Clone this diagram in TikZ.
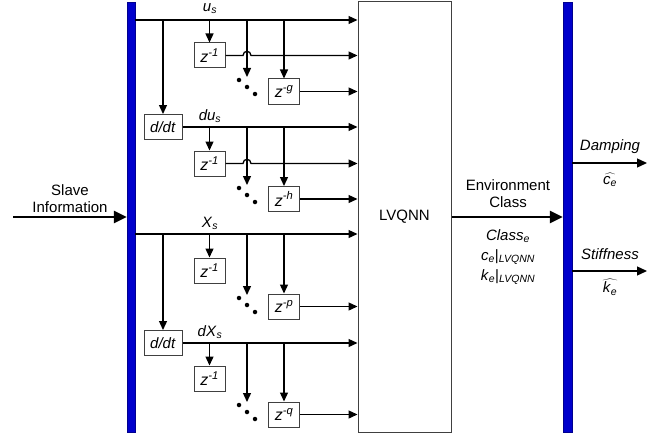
\documentclass[tikz,border=0pt]{standalone}
\usepackage{fontspec}
\setmainfont{Liberation Sans}
\usetikzlibrary{arrows.meta,calc}
\definecolor{barblue}{RGB}{0,0,204}
\definecolor{boxgray}{RGB}{64,64,64}
\newcommand\zpow[1]{{\fontsize{16}{17}\selectfont\textit{z}\textsuperscript{\textit{-#1}}}}
\begin{document}
\begin{tikzpicture}[x=1pt,y=-1pt,
  every node/.style={font=\fontsize{15}{17}\selectfont},
  arr/.style={line width=1.3pt,-{Triangle[length=9pt,width=8pt]}},
  outarr/.style={line width=1.3pt,-{Triangle[length=10pt,width=9pt]}},
  bigarr/.style={line width=2.6pt,-{Triangle[length=13pt,width=12pt]}},
  bar/.style={fill=barblue,draw=barblue!70!black,line width=0.5pt,minimum width=8pt,minimum height=430pt,inner sep=0},
  zbox/.style={draw=boxgray,line width=1pt,minimum width=31pt,minimum height=25pt,inner sep=0,fill=white},
  dbox/.style={zbox,minimum width=38pt},
  dot/.style={circle,fill=black,inner sep=0,minimum size=4.5pt},
  lbl/.style={inner sep=1pt}
]
\useasboundingbox (0,0) rectangle (664,436);
% bars and main block
\node[bar] (lb) at (131,217) {};
\node[bar,minimum width=9pt] (rb) at (567.5,217) {};
\node[draw=boxgray,line width=1pt,minimum width=93pt,minimum height=430pt,inner sep=0] (lvq) at (404.5,217) {LVQNN};

% ---------- group 1 : u_s ----------
\coordinate (r1) at (0,20);
\node[dbox] (d1) at (163,127) {\textit{d/dt}};
\node[zbox] (z11) at (209.5,55.5) {\zpow{1}};
\node[zbox] (z1g) at (284,91.5) {\zpow{g}};
\coordinate (t1) at (247,77);
\draw[arr] (lb.east |- r1) -- (lvq.west |- r1);
\node[lbl] (us) at (210,9) {\textit{u}\textsubscript{\textit{s}}};
\draw[arr] (d1.north |- r1) -- (d1.north);
\draw[arr] (z11.north |- r1) -- (z11.north);
\draw[arr] (t1 |- r1) -- (t1);
\draw[arr] (z1g.north |- r1) -- (z1g.north);
\node[dot] (p11) at ($(t1)+(-8,3)$) {};
\node[dot] (p12) at ($(t1)+(0,10)$) {};
\node[dot] (p13) at ($(t1)+(8,17)$) {};
\coordinate (h11) at ($(t1 |- z11.east)+(-4,0)$);
\coordinate (h12) at ($(t1 |- z11.east)+(4,0)$);
\draw[arr] (z11.east) -- (h11) .. controls +(0,-5.5) and +(0,-5.5) .. (h12) -- (lvq.west |- z11.east);
\draw[arr] (z1g.east) -- (lvq.west |- z1g.east);

% ---------- group 2 : du_s ----------
\node[zbox] (z21) at (209.5,163.5) {\zpow{1}};
\node[zbox] (z2h) at (284,199) {\zpow{h}};
\coordinate (t2) at (247,185);
\draw[arr] (d1.east) -- (lvq.west |- d1.east);
\node[lbl] (dus) at (210,116) {\textit{du}\textsubscript{\textit{s}}};
\draw[arr] (z21.north |- d1.east) -- (z21.north);
\draw[arr] (t2 |- d1.east) -- (t2);
\draw[arr] (z2h.north |- d1.east) -- (z2h.north);
\node[dot] (p21) at ($(t2)+(-8,3)$) {};
\node[dot] (p22) at ($(t2)+(0,10)$) {};
\node[dot] (p23) at ($(t2)+(8,17)$) {};
\coordinate (h21) at ($(t2 |- z21.east)+(-4,0)$);
\coordinate (h22) at ($(t2 |- z21.east)+(4,0)$);
\draw[arr] (z21.east) -- (h21) .. controls +(0,-5.5) and +(0,-5.5) .. (h22) -- (lvq.west |- z21.east);
\draw[arr] (z2h.east) -- (lvq.west |- z2h.east);

% ---------- group 3 : X_s ----------
\coordinate (r3) at (0,234);
\node[dbox] (d2) at (163,343) {\textit{d/dt}};
\node[zbox] (z31) at (209.5,270.5) {\zpow{1}};
\node[zbox] (z3p) at (284,306.5) {\zpow{p}};
\coordinate (t3) at (247,295);
\draw[arr] (lb.east |- r3) -- (lvq.west |- r3);
\node[lbl] (xs) at (210,223) {\textit{X}\textsubscript{\textit{s}}};
\draw[arr] (d2.north |- r3) -- (d2.north);
\draw[arr] (z31.north |- r3) -- (z31.north);
\draw[arr] (t3 |- r3) -- (t3);
\draw[arr] (z3p.north |- r3) -- (z3p.north);
\node[dot] (p31) at ($(t3)+(-8,3)$) {};
\node[dot] (p32) at ($(t3)+(0,10)$) {};
\node[dot] (p33) at ($(t3)+(8,17)$) {};
\draw[arr] (z3p.east) -- (lvq.west |- z3p.east);

% ---------- group 4 : dX_s ----------
\node[zbox] (z41) at (209.5,378.5) {\zpow{1}};
\node[zbox] (z4q) at (284,414.5) {\zpow{q}};
\coordinate (t4) at (247,402);
\draw[arr] (d2.east) -- (lvq.west |- d2.east);
\node[lbl] (dxs) at (210,332) {\textit{dX}\textsubscript{\textit{s}}};
\draw[arr] (z41.north |- d2.east) -- (z41.north);
\draw[arr] (t4 |- d2.east) -- (t4);
\draw[arr] (z4q.north |- d2.east) -- (z4q.north);
\node[dot] (p41) at ($(t4)+(-8,3)$) {};
\node[dot] (p42) at ($(t4)+(0,10)$) {};
\node[dot] (p43) at ($(t4)+(8,17)$) {};
\draw[arr] (z4q.east) -- (lvq.west |- z4q.east);

% ---------- input ----------
\coordinate (si) at (13,217);
\draw[bigarr] (si) -- (lb.west |- si);
\node[align=center] (slave) at (70,198.5) {Slave\\Information};

% ---------- LVQNN output ----------
\draw[bigarr] (lvq.east) -- (rb.west |- lvq.east);
\node[align=center] (env) at (508,193.5) {Environment\\Class};
\node (cls) at (508,236) {\textit{Class}\textsubscript{\textit{e}}};
\node (ce) at (508,257) {\textit{c}\textsubscript{\textit{e}}|\textsubscript{\textit{LVQNN}}};
\node (ke) at (508,277) {\textit{k}\textsubscript{\textit{e}}|\textsubscript{\textit{LVQNN}}};

% ---------- outputs ----------
\coordinate (dp) at (647,163);
\coordinate (st) at (647,271);
\draw[outarr] (rb.east |- dp) -- (dp);
\draw[outarr] (rb.east |- st) -- (st);
\node (damp) at (610,147) {\textit{Damping}};
\node[inner sep=1pt] (chat) at (610,180) {$\widehat{\mbox{\textit{c}\textsubscript{\textit{e}}}}$};
\node (stiff) at (610,254) {\textit{Stiffness}};
\node[inner sep=1pt] (khat) at (610,287) {$\widehat{\mbox{\textit{k}\textsubscript{\textit{e}}}}$};
\end{tikzpicture}
\end{document}
